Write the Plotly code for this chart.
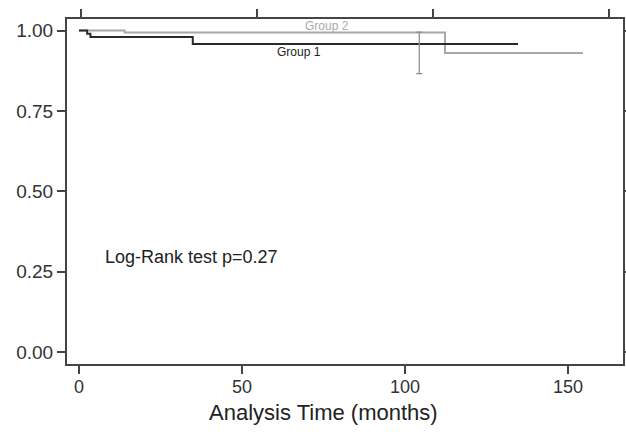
import plotly.graph_objects as go

# Kaplan-Meier step data (time in months, survival probability)
g1_time = [0, 2.5, 3.5, 34.9, 134.7]
g1_surv = [1.0, 0.99, 0.98, 0.958, 0.958]

g2_time = [0, 14.0, 112.3, 154.6]
g2_surv = [1.0, 0.994, 0.930, 0.930]

# confidence interval bar
ci_time = [104.4]
ci_center = [0.958]
ci_upper = [0.995]
ci_lower = [0.866]

x_ticks = [0, 50, 100, 150]
y_ticks = [0.0, 0.25, 0.5, 0.75, 1.0]
y_ticklabels = ["0.00", "0.25", "0.50", "0.75", "1.00"]

FONT = "Liberation Sans, Arial, sans-serif"

fig = go.Figure()

fig.add_trace(go.Scatter(
    x=g2_time, y=g2_surv, mode="lines", line=dict(shape="hv", color="#a8a8a8", width=2),
    showlegend=False, hoverinfo="skip"))

fig.add_trace(go.Scatter(
    x=g1_time, y=g1_surv, mode="lines", line=dict(shape="hv", color="#2a2a2a", width=2),
    showlegend=False, hoverinfo="skip"))

fig.add_trace(go.Scatter(
    x=ci_time, y=ci_center, mode="markers",
    marker=dict(size=1, color="rgba(0,0,0,0)"),
    error_y=dict(type="data", symmetric=False,
                 array=[u - c for u, c in zip(ci_upper, ci_center)],
                 arrayminus=[c - l for c, l in zip(ci_center, ci_lower)],
                 color="#8a8a8a", thickness=1.2, width=3),
    showlegend=False, hoverinfo="skip"))

# invisible trace to activate top axis
fig.add_trace(go.Scatter(x=[0], y=[0.5], xaxis="x2", mode="markers",
                         marker=dict(size=1, color="rgba(0,0,0,0)"),
                         showlegend=False, hoverinfo="skip"))

fig.add_annotation(x=76, y=1.0, yshift=5, text="Group 2", showarrow=False,
                   font=dict(family=FONT, size=12, color="#aaaaaa"))
fig.add_annotation(x=67.5, y=0.958, yshift=-8, text="Group 1", showarrow=False,
                   font=dict(family=FONT, size=12, color="#222222"))
fig.add_annotation(x=7.5, y=0.295, xanchor="left", yanchor="middle",
                   text="Log-Rank test p=0.27", showarrow=False,
                   font=dict(family=FONT, size=18, color="#222222"))
# x-axis title (placed slightly left of the plot centre, as in the reference)
fig.add_annotation(xref="paper", yref="paper", x=0.462, y=-0.14,
                   xanchor="center", yanchor="middle",
                   text="Analysis Time (months)", showarrow=False,
                   font=dict(family=FONT, size=22, color="#222222"))

fig.update_layout(
    width=626, height=436,
    margin=dict(l=67, r=3, t=19, b=72),
    paper_bgcolor="white", plot_bgcolor="white",
    font=dict(family=FONT, color="#333333"),
    xaxis=dict(range=[-3.68, 166.9], tickvals=x_ticks, ticks="outside", ticklen=8,
               tickwidth=1.5, tickcolor="#444444", showline=True, linecolor="#444444",
               linewidth=2, mirror=True, showgrid=False, zeroline=False, automargin=False,
               ticklabelstandoff=-3,
               tickfont=dict(size=18, color="#333333")),
    xaxis2=dict(overlaying="x", side="top", range=[-4, 154], tickvals=x_ticks,
                ticks="outside", ticklen=9, tickwidth=1.5, tickcolor="#444444",
                showticklabels=False, showline=False, showgrid=False, zeroline=False,
                automargin=False),
    yaxis=dict(range=[-0.037, 1.036], tickvals=y_ticks, ticktext=y_ticklabels,
               ticks="outside", ticklen=8, tickwidth=1.5, tickcolor="#444444",
               showline=True, linecolor="#444444", linewidth=2, mirror="ticks",
               showgrid=False, zeroline=False, automargin=False,
               tickfont=dict(size=19, color="#333333")),
)

fig.write_html("out.html", config={"displayModeBar": False})

# remove default page margin so the figure sits at the window origin
with open("out.html", "r", encoding="utf-8") as f:
    html = f.read()
html = html.replace("<head>", "<head><style>html,body{margin:0;padding:0;overflow:hidden;}</style>", 1)
with open("out.html", "w", encoding="utf-8") as f:
    f.write(html)
